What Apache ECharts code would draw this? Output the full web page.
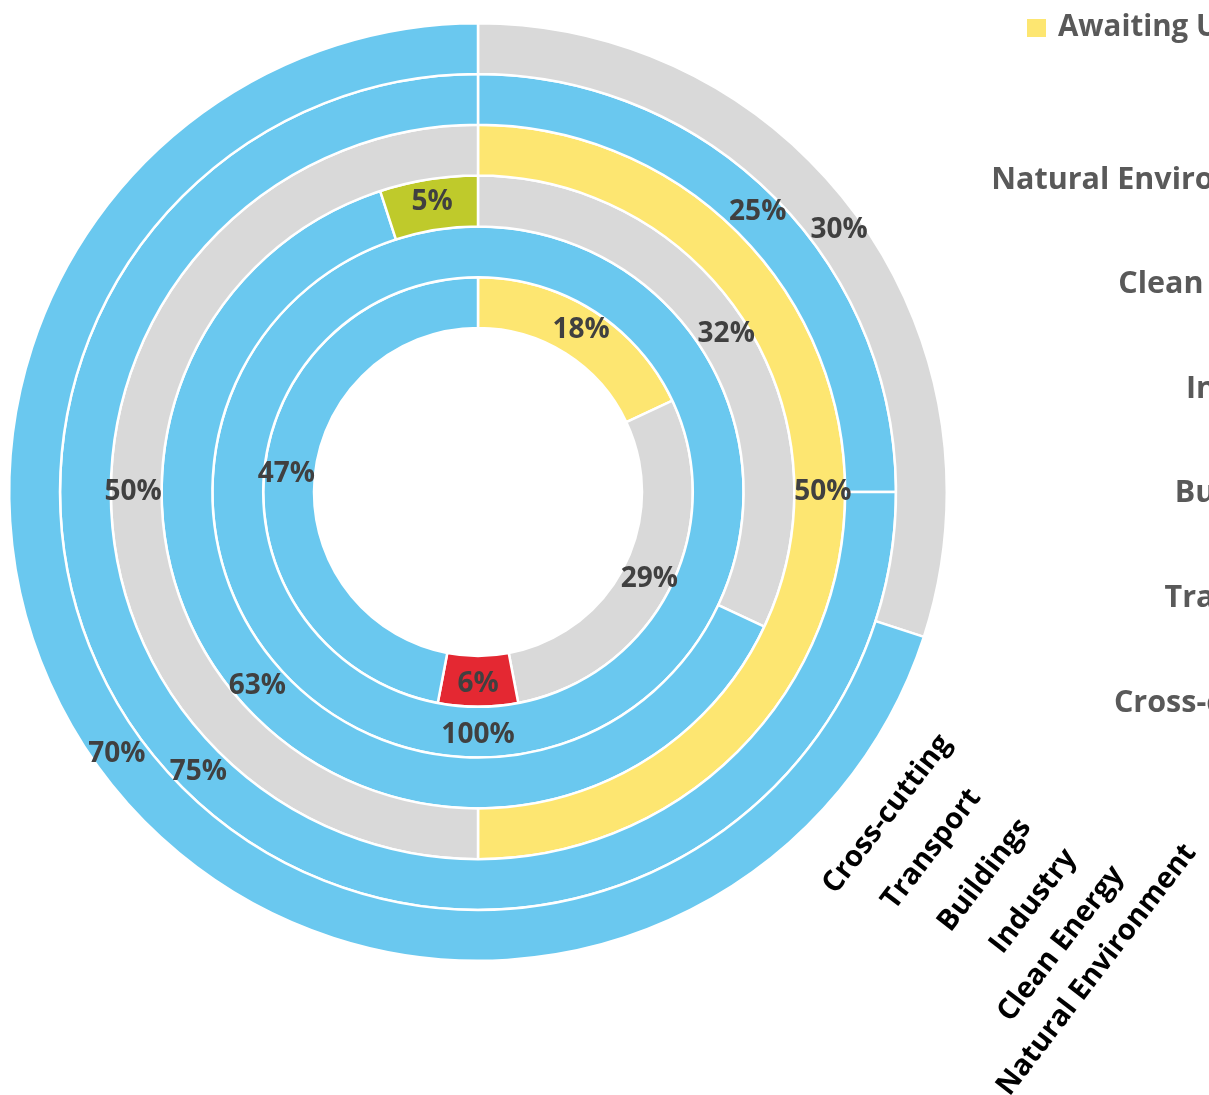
<!DOCTYPE html>
<html>
<head>
<meta charset="utf-8">
<script src="https://cdn.jsdelivr.net/npm/echarts@6/dist/echarts.min.js"></script>
<style>
html,body{margin:0;padding:0;background:#fff;}
#chart{width:1209px;height:1095px;}
</style>
</head>
<body>
<div id="chart"></div>
<script>
// Rings from inner to outer
const categories = ['Cross-cutting', 'Transport', 'Buildings', 'Industry', 'Clean Energy', 'Natural Environment'];

const crossCuttingValues = [18, 29, 6, 47];
const crossCuttingStatus = ['Awaiting Update', 'Not Started', 'Off Track', 'On Track'];
const transportValues = [100];
const transportStatus = ['On Track'];
const buildingsValues = [32, 63, 5];
const buildingsStatus = ['Not Started', 'On Track', 'Complete'];
const industryValues = [50, 50];
const industryStatus = ['Awaiting Update', 'Not Started'];
const cleanEnergyValues = [25, 75];
const cleanEnergyStatus = ['On Track', 'On Track'];
const naturalEnvValues = [30, 70];
const naturalEnvStatus = ['Not Started', 'On Track'];

const legendItems = ['Awaiting Update'];

const statusColors = {
  'On Track': '#6AC8EF',
  'Not Started': '#D9D9D9',
  'Awaiting Update': '#FDE671',
  'Complete': '#BFCA2B',
  'Off Track': '#E42832'
};

const rings = [
  [crossCuttingValues, crossCuttingStatus],
  [transportValues, transportStatus],
  [buildingsValues, buildingsStatus],
  [industryValues, industryStatus],
  [cleanEnergyValues, cleanEnergyStatus],
  [naturalEnvValues, naturalEnvStatus]
];

const FONT = '"Open Sans", sans-serif';
const cx = 478, cy = 492;
const inner0 = 164, ringW = 50.8;

const series = rings.map(function (r, i) {
  return {
    type: 'pie',
    name: categories[i],
    center: [cx, cy],
    radius: [inner0 + i * ringW, inner0 + (i + 1) * ringW],
    startAngle: 90,
    clockwise: true,
    avoidLabelOverlap: false,
    silent: true,
    itemStyle: { borderColor: '#ffffff', borderWidth: 2.5 },
    label: {
      show: true,
      position: 'inside',
      formatter: '{c}%',
      fontFamily: FONT,
      fontWeight: 'bold',
      fontSize: 28,
      color: '#404040'
    },
    labelLine: { show: false },
    emphasis: { disabled: true },
    data: r[0].map(function (v, j) {
      return { name: r[1][j], value: v, itemStyle: { color: statusColors[r[1][j]] } };
    })
  };
});

// right-hand (clipped) category list, outer ring first
const rightTexts = categories.slice().reverse().map(function (c, k) {
  return {
    type: 'text',
    x: 1315,
    y: 180 + k * 104.6,
    style: {
      text: c,
      textAlign: 'right',
      textVerticalAlign: 'middle',
      font: 'bold 30.5px ' + FONT,
      fill: '#595959'
    }
  };
});

// rotated category labels at lower right
const rotStarts = [[829, 890], [888, 906], [944, 928], [996, 950], [1004, 1018], [1003, 1092]];
const rotLabels = categories.map(function (c, i) {
  return {
    type: 'text',
    x: rotStarts[i][0],
    y: rotStarts[i][1],
    rotation: 52.5 * Math.PI / 180,
    style: {
      text: c,
      textAlign: 'left',
      textVerticalAlign: 'middle',
      font: 'bold 29px ' + FONT,
      fill: '#000000'
    }
  };
});

const chart = echarts.init(document.getElementById('chart'), null, { renderer: 'canvas' });
chart.setOption({
  animation: false,
  backgroundColor: '#ffffff',
  legend: {
    data: legendItems,
    left: 1025,
    top: 13,
    padding: 0,
    icon: 'rect',
    itemWidth: 21,
    itemHeight: 20,
    selectedMode: false,
    textStyle: { fontFamily: FONT, fontWeight: 'bold', fontSize: 29.5, color: '#595959', padding: [0, 0, 0, 6] }
  },
  series: series,
  graphic: rightTexts.concat(rotLabels)
});
</script>
</body>
</html>
